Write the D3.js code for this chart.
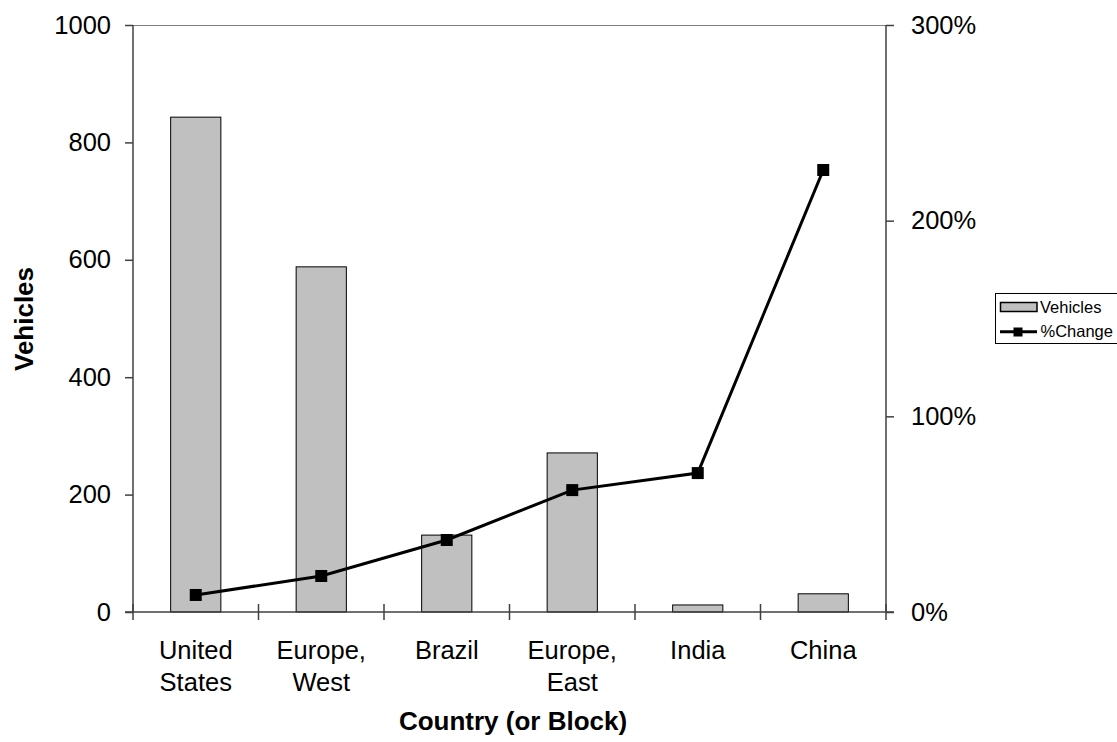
<!DOCTYPE html>
<html><head><meta charset="utf-8">
<script src="https://cdn.jsdelivr.net/npm/d3@7"></script>
<style>body{margin:0;background:#fff;} svg{display:block;font-family:"Liberation Sans",Arial,sans-serif;}</style>
</head><body>
<svg id="c" width="1117" height="742"></svg>
<script>
const categories = [["United","States"],["Europe,","West"],["Brazil"],["Europe,","East"],["India"],["China"]];
const vehicles = [843, 588, 131, 271, 12, 31];
const pctChange = [8.7, 18.4, 36.8, 62.3, 71.0, 225.9];
const leftTicks = [0, 200, 400, 600, 800, 1000];
const rightTicks = [0, 100, 200, 300];

const svg = d3.select("#c");
const L = 133, R = 886, T = 25, B = 612;
const keys = categories.map((c,i)=>i);
const x = d3.scaleBand().domain(keys).range([L, R]).paddingInner(0).paddingOuter(0);
const y = d3.scaleLinear().domain([0,1000]).range([B, T]);
const y2 = d3.scaleLinear().domain([0,300]).range([B, T]);
const axisCol = "#404040";
const FS = 25.5;

// top border
svg.append("line").attr("x1",L).attr("x2",R).attr("y1",T+0.5).attr("y2",T+0.5).attr("stroke","#808080").attr("stroke-width",1);

// bars
const bw = x.bandwidth()*0.4;
svg.selectAll("rect.bar").data(vehicles).join("rect")
  .attr("x",(d,i)=>x(i)+x.bandwidth()/2-bw/2).attr("width",bw)
  .attr("y",d=>y(d)).attr("height",d=>B-y(d))
  .attr("fill","#c0c0c0").attr("stroke","#000").attr("stroke-width",1);

// left axis
const gl = svg.append("g").attr("transform",`translate(${L},0)`)
  .call(d3.axisLeft(y).tickValues(leftTicks).tickFormat(d3.format("d")).tickSize(8).tickPadding(14));
gl.selectAll("path,line").attr("stroke",axisCol).attr("stroke-width",1.5);
gl.select(".domain").attr("d",`M-0,${T}V${B}`);
gl.selectAll("text").attr("font-size",FS).attr("fill","#000").attr("font-family","Liberation Sans, Arial, sans-serif");

// right axis
const gr = svg.append("g").attr("transform",`translate(${R},0)`)
  .call(d3.axisRight(y2).tickValues(rightTicks).tickFormat(d=>d+"%").tickSize(8).tickPadding(17));
gr.selectAll("path,line").attr("stroke",axisCol).attr("stroke-width",1.5);
gr.select(".domain").attr("d",`M0,${T}V${B}`);
gr.selectAll("text").attr("font-size",FS).attr("fill","#000").attr("font-family","Liberation Sans, Arial, sans-serif");

// bottom axis line and ticks at band boundaries
const gb = svg.append("g");
gb.append("line").attr("x1",L-8).attr("x2",R+8).attr("y1",B).attr("y2",B).attr("stroke",axisCol).attr("stroke-width",1.5);
const bounds = keys.map(i=>x(i)).concat([R]);
gb.selectAll("line.t").data(bounds).join("line").attr("class","t")
  .attr("x1",d=>d).attr("x2",d=>d).attr("y1",B-8).attr("y2",B+8).attr("stroke",axisCol).attr("stroke-width",1.5);
// category labels
gb.selectAll("text.cat").data(categories).join("text").attr("class","cat")
  .attr("text-anchor","middle").attr("font-size",FS).attr("fill","#000")
  .attr("transform",(d,i)=>`translate(${x(i)+x.bandwidth()/2},${B+47})`)
  .each(function(d){
    d3.select(this).selectAll("tspan").data(d).join("tspan").attr("x",0).attr("dy",(t,j)=>j===0?0:32).text(t=>t);
  });

// line
const line = d3.line().x((d,i)=>x(i)+x.bandwidth()/2).y(d=>y2(d));
svg.append("path").datum(pctChange).attr("d",line).attr("fill","none").attr("stroke","#000").attr("stroke-width",3);
svg.selectAll("rect.mk").data(pctChange).join("rect").attr("class","mk")
  .attr("x",(d,i)=>x(i)+x.bandwidth()/2-6).attr("y",d=>y2(d)-6).attr("width",12).attr("height",12).attr("fill","#000");

// axis titles
svg.append("text").attr("transform","translate(33,319) rotate(-90)").attr("text-anchor","middle")
  .attr("font-size",26).attr("font-weight","bold").text("Vehicles");
svg.append("text").attr("x",513).attr("y",730).attr("text-anchor","middle")
  .attr("font-size",26).attr("font-weight","bold").text("Country (or Block)");

// legend
const lg = svg.append("g");
lg.append("rect").attr("x",995.5).attr("y",293.5).attr("width",125).attr("height",50).attr("fill","#fff").attr("stroke","#000").attr("stroke-width",1);
lg.append("rect").attr("x",1000.5).attr("y",302.5).attr("width",36.5).attr("height",9).attr("fill","#c0c0c0").attr("stroke","#000").attr("stroke-width",1.5);
lg.append("text").attr("x",1040).attr("y",312.5).attr("font-size",16.5).text("Vehicles");
lg.append("line").attr("x1",1000).attr("x2",1037).attr("y1",331.7).attr("y2",331.7).attr("stroke","#000").attr("stroke-width",3);
lg.append("rect").attr("x",1013.5).attr("y",327.5).attr("width",9).attr("height",9).attr("fill","#000");
lg.append("text").attr("x",1040.5).attr("y",337).attr("font-size",16.5).text("%Change");
</script>
</body></html>
